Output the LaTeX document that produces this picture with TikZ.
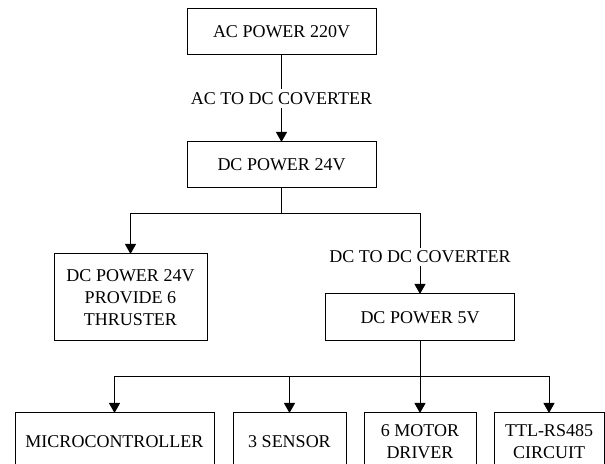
\documentclass[tikz,border=0pt]{standalone}
\usepackage{fontspec}
\setmainfont{Liberation Serif}
\usetikzlibrary{arrows.meta,positioning}
\tikzset{box/.style={draw=black,line width=0.5pt,outer sep=0pt,align=center,minimum width=94.5pt,minimum height=23pt,fill=white,font=\fontsize{9}{11}\selectfont},arr/.style={-{Triangle[length=5pt,width=5.5pt]},line width=0.5pt,black},lbl/.style={fill=white,inner sep=1.5pt,font=\fontsize{9}{11}\selectfont}}

\begin{document}
\begin{tikzpicture}[node distance=43.5pt and 9pt]
\clip (0,0) rectangle (302.5pt,-232pt);
\node[box] (acpower) at (140.75pt,-16pt) {AC POWER 220V};
\node[box,below=of acpower] (dcpower) {DC POWER 24V};
\node[box,minimum width=76.5pt,minimum height=43.5pt] (thruster) at (65.25pt,-148.75pt) {DC POWER 24V\\PROVIDE 6\\THRUSTER};
\node[box,minimum height=23.5pt] (fivevolt) at (210pt,-158.75pt) {DC POWER 5V};
\node[box,minimum width=99.5pt,minimum height=28.5pt] (micro) at (57.25pt,-220.75pt) {MICROCONTROLLER};
\node[box,minimum width=56.5pt,minimum height=28.5pt,right=9.5pt of micro] (sensor) {3 SENSOR};
\node[box,minimum width=56pt,minimum height=28.5pt,right=of sensor] (motor) {6 MOTOR\\DRIVER};
\node[box,minimum width=55pt,minimum height=28.5pt,right=of motor] (rs485) {TTL-RS485\\CIRCUIT};
\coordinate (split) at (140.75pt,-106.75pt);
\coordinate (bus) at (210pt,-188.5pt);
\draw[arr] (acpower)--node[lbl]{AC TO DC COVERTER}(dcpower);
\draw[line width=0.5pt] (dcpower)--(split);
\draw[arr] (split)-|(thruster); \draw[arr] (split)-|node[lbl,pos=0.77]{DC TO DC COVERTER}(fivevolt);
\draw[arr] (fivevolt)--(motor); \draw[arr] (bus)-|(micro); \draw[arr] (bus)-|(sensor); \draw[arr] (bus)-|(rs485);
\end{tikzpicture}
\end{document}
